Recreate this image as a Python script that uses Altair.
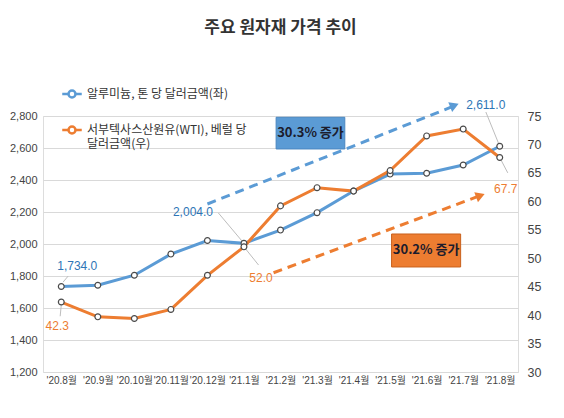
import json
import pandas as pd
import altair as alt

# data
months = ["'20.8월", "'20.9월", "'20.10월", "'20.11월", "'20.12월", "'21.1월", "'21.2월",
          "'21.3월", "'21.4월", "'21.5월", "'21.6월", "'21.7월", "'21.8월"]
aluminium = [1734.0, 1742, 1805, 1937, 2022, 2004.0, 2087, 2196, 2331, 2437, 2442, 2494, 2611.0]
wti = [42.3, 39.7, 39.4, 41.0, 47.0, 52.0, 59.2, 62.4, 61.8, 65.4, 71.5, 72.7, 67.7]
series = ["알루미늄, 톤 당 달러금액(좌)", "서부텍사스산원유(WTI), 베럴 당 달러금액(우)"]
left_ticks = [1200, 1400, 1600, 1800, 2000, 2200, 2400, 2600, 2800]
right_ticks = [30, 35, 40, 45, 50, 55, 60, 65, 70, 75]

BLUE = "#5b9bd5"
ORANGE = "#ed7d31"
BLUE_TXT = "#2e75b6"
NUM_FONT = "Liberation Sans, Noto Sans CJK KR"
KR_FONT = "Noto Sans CJK KR"

idx = list(range(len(months)))
df_alu = pd.DataFrame({"idx": idx, "value": aluminium, "series": series[0]})
df_wti = pd.DataFrame({"idx": idx, "value": wti, "series": series[1]})

X = alt.X("idx:Q", title=None,
          scale=alt.Scale(domain=[-0.5, 12.5], nice=False, zero=False),
          axis=alt.Axis(values=idx, labelExpr=json.dumps(months, ensure_ascii=False) + "[datum.value]",
                        labelOverlap=False, grid=False, ticks=False, domain=False, labelPadding=3,
                        labelFont=NUM_FONT, labelFontSize=10, labelColor="#444"))


def ly(field="value", axis=None):
    return alt.Y(field, type="quantitative", title=None, axis=axis,
                 scale=alt.Scale(domain=[1200, 2800], nice=False, zero=False))


def ry(field="value", axis=None):
    return alt.Y(field, type="quantitative", title=None, axis=axis,
                 scale=alt.Scale(domain=[30, 75], nice=False, zero=False))


left_axis = alt.Axis(orient="left", values=left_ticks, format=",d", grid=True, gridColor="#d9d9d9",
                     ticks=False, domain=False, labelPadding=6, labelFont=NUM_FONT,
                     labelFontSize=11, labelColor="#444")
right_axis = alt.Axis(orient="right", values=right_ticks, grid=False, ticks=False, domain=False,
                      labelPadding=9, labelFont=NUM_FONT, labelFontSize=12.5, labelColor="#444")

wrap = "datum.label == '%s' ? ['서부텍사스산원유(WTI), 베럴 당', '달러금액(우)'] : datum.label" % series[1]
legend_symbol = ("M-1,0L-0.36,0M0.36,0L1,0M-0.36,0A0.36,0.36,0,1,1,0.36,0"
                 "A0.36,0.36,0,1,1,-0.36,0Z")
color = alt.Color("series:N", scale=alt.Scale(domain=series, range=[BLUE, ORANGE]),
                  legend=alt.Legend(orient="none", legendX=18, legendY=-33, title=None,
                                    labelFont=KR_FONT, labelFontSize=12, labelColor="#333",
                                    labelExpr=wrap, labelLimit=0, rowPadding=16,
                                    symbolType=legend_symbol, symbolSize=380,
                                    symbolStrokeWidth=2.5, symbolFillColor="white"))

blue_line = alt.Chart(df_alu).mark_line(strokeWidth=3).encode(x=X, y=ly(axis=left_axis), color=color)
orange_line = alt.Chart(df_wti).mark_line(strokeWidth=3).encode(x=X, y=ry(axis=right_axis), color=color)

dot = dict(shape="circle", filled=True, fill="white", stroke="#4a4a4a", strokeWidth=1.2, size=34, opacity=1)
blue_pts = alt.Chart(df_alu).mark_point(**dot).encode(x=X, y=ly())
orange_pts = alt.Chart(df_wti).mark_point(**dot).encode(x=X, y=ry())


def label(df, i, yfun, fmt, col, dx, dy):
    d = df.iloc[[i]].assign(txt=fmt.format(df["value"].iloc[i]))
    return alt.Chart(d).mark_text(font=NUM_FONT, fontSize=12, color=col, dx=dx, dy=dy).encode(
        x=X, y=yfun(), text="txt:N")


labels = [
    label(df_alu, 0, ly, "{:,.1f}", BLUE_TXT, 16, -21),
    label(df_alu, 5, ly, "{:,.1f}", BLUE_TXT, -51, -31),
    label(df_alu, 12, ly, "{:,.1f}", BLUE_TXT, -14, -41),
    label(df_wti, 0, ry, "{:.1f}", ORANGE, -4, 24),
    label(df_wti, 5, ry, "{:.1f}", ORANGE, 17, 31),
    label(df_wti, 12, ry, "{:.1f}", ORANGE, 6, 31),
]


def seg(x1, y1, x2, y2, yfun, **kw):
    d = pd.DataFrame({"idx": [x1], "v": [y1], "idx2": [x2], "v2": [y2]})
    return alt.Chart(d).mark_rule(**kw).encode(x=X, x2="idx2:Q", y=yfun("v"), y2="v2:Q")


leader = dict(color="#bdbdbd", strokeWidth=1)
leaders = [
    seg(0.05, 1762, 0.19, 1800, ly, **leader),
    seg(-0.03, 39.8, 0.0, 41.8, ry, **leader),
    seg(4.30, 2194, 5, 2004, ly, **leader),
    seg(5, 52.0, 5.40, 48.8, ry, **leader),
    seg(11.62, 2825, 12, 2611, ly, **leader),
    seg(12, 67.7, 12.22, 65.0, ry, **leader),
]

dash = dict(strokeWidth=3, strokeDash=[9, 6])
arrows = [
    seg(4.0, 2250, 10.70, 2858, ly, color=BLUE, **dash),
    seg(5.81, 47.45, 11.42, 60.9, ry, color=ORANGE, **dash),
]


def head(x, y, yfun, col, angle):
    d = pd.DataFrame({"idx": [x], "v": [y]})
    return alt.Chart(d).mark_point(shape="triangle-right", filled=True, size=110, angle=angle,
                                   color=col, opacity=1).encode(x=X, y=yfun("v"))


heads = [head(10.76, 2866, ly, BLUE, 338.3), head(11.47, 61.0, ry, ORANGE, 339.5)]

alu_rise = (aluminium[12] - aluminium[5]) / aluminium[5] * 100
wti_rise = (wti[12] - wti[5]) / wti[5] * 100


def box(x1, x2, y1, y2, yfun, fill, stroke, text):
    rd = pd.DataFrame({"idx": [x1], "v": [y1], "idx2": [x2], "v2": [y2]})
    td = pd.DataFrame({"idx": [(x1 + x2) / 2], "v": [(y1 + y2) / 2], "txt": [text]})
    r = alt.Chart(rd).mark_rect(fill=fill, stroke=stroke, strokeWidth=1).encode(
        x=X, x2="idx2:Q", y=yfun("v"), y2="v2:Q")
    t = alt.Chart(td).mark_text(font=KR_FONT, fontSize=13, fontWeight="bold", color="#1c1c2c").encode(
        x=X, y=yfun("v"), text="txt:N")
    return [r, t]


boxes = (box(5.88, 7.76, 2792, 2594, ly, BLUE, "#4a86c0", "%.1f%% 증가" % alu_rise)
         + box(9.04, 10.93, 54.26, 48.46, ry, ORANGE, "#c8601c", "%.1f%% 증가" % wti_rise))

chart = alt.layer(
    *leaders, *arrows, *heads, *boxes,
    blue_line, orange_line, blue_pts, orange_pts, *labels
).resolve_scale(y="independent").properties(
    width=475, height=256,
    autosize=alt.AutoSizeParams(type="none"),
    padding={"left": 35, "top": 108, "right": 38, "bottom": 38},
    title=alt.Title("주요 원자재 가격 추이", font=KR_FONT, fontSize=17, fontWeight="bold",
                    color="#333", anchor="middle", frame="group", offset=46),
).configure_view(stroke=None).configure(background="white")

chart.save("out.html", embed_options={"renderer": "svg", "actions": False})
